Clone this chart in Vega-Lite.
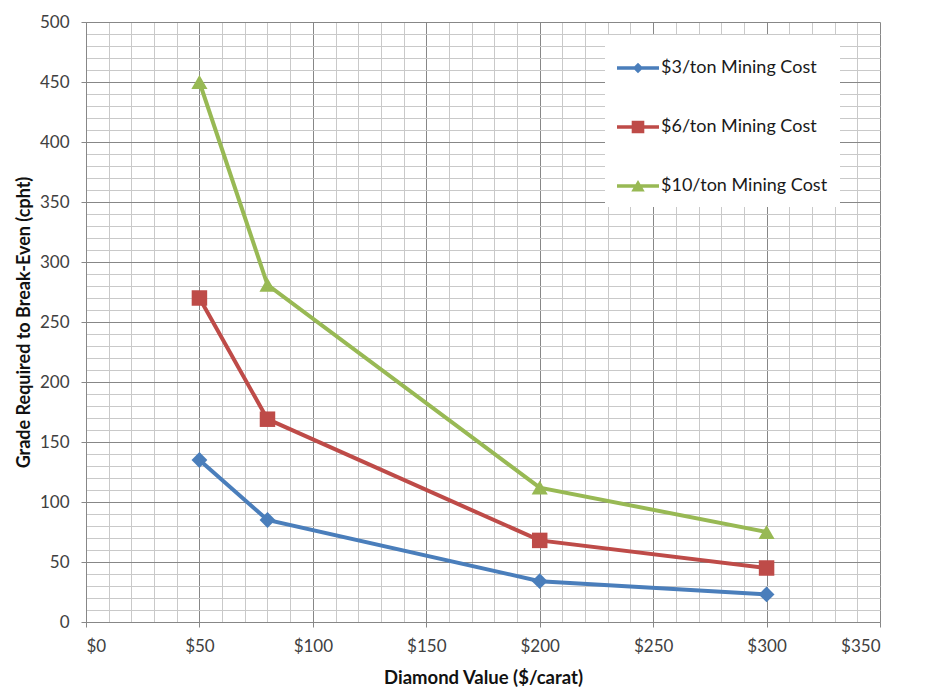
{
  "$schema": "https://vega.github.io/schema/vega-lite/v6.json",
  "width": 794,
  "height": 600,
  "autosize": "none",
  "padding": {"left": 86, "top": 22, "right": 46, "bottom": 72},
  "background": "white",
  "config": {
    "font": "Lato",
    "view": {"stroke": null},
    "axis": {
      "labelFont": "Lato",
      "labelFontSize": 17,
      "labelColor": "#404040",
      "titleFont": "Lato",
      "titleFontWeight": "bold",
      "titleColor": "#111111",
      "domainColor": "#878787",
      "tickSize": 5
    }
  },
  "data": {
    "values": [
      {"value": 50, "grade": 135, "series": "$3/ton Mining Cost"},
      {"value": 80, "grade": 85, "series": "$3/ton Mining Cost"},
      {"value": 200, "grade": 34, "series": "$3/ton Mining Cost"},
      {"value": 300, "grade": 23, "series": "$3/ton Mining Cost"},
      {"value": 50, "grade": 270, "series": "$6/ton Mining Cost"},
      {"value": 80, "grade": 169, "series": "$6/ton Mining Cost"},
      {"value": 200, "grade": 68, "series": "$6/ton Mining Cost"},
      {"value": 300, "grade": 45, "series": "$6/ton Mining Cost"},
      {"value": 50, "grade": 450, "series": "$10/ton Mining Cost"},
      {"value": 80, "grade": 281, "series": "$10/ton Mining Cost"},
      {"value": 200, "grade": 112, "series": "$10/ton Mining Cost"},
      {"value": 300, "grade": 75, "series": "$10/ton Mining Cost"}
    ]
  },
  "encoding": {
    "x": {
      "field": "value",
      "type": "quantitative",
      "scale": {"domain": [0, 350], "nice": false},
      "axis": {
        "title": "Diamond Value ($/carat)",
        "titleFontSize": 18.5,
        "values": [0,10,20,30,40,50,60,70,80,90,100,110,120,130,140,150,160,170,180,190,200,210,220,230,240,250,260,270,280,290,300,310,320,330,340,350],
        "labelExpr": "datum.value % 50 === 0 ? '$' + datum.value : ''",
        "labelOverlap": false,
        "labelPadding": 11,
        "titlePadding": 14,
        "gridColor": {"condition": {"test": "datum.value % 50 === 0", "value": "#878787"}, "value": "#c9c9c9"},
        "tickColor": {"condition": {"test": "datum.value % 50 === 0", "value": "#878787"}, "value": "transparent"}
      }
    },
    "y": {
      "field": "grade",
      "type": "quantitative",
      "scale": {"domain": [0, 500], "nice": false},
      "axis": {
        "title": "Grade Required to Break-Even (cpht)",
        "titleFontSize": 18,
        "values": [0,10,20,30,40,50,60,70,80,90,100,110,120,130,140,150,160,170,180,190,200,210,220,230,240,250,260,270,280,290,300,310,320,330,340,350,360,370,380,390,400,410,420,430,440,450,460,470,480,490,500],
        "labelExpr": "datum.value % 50 === 0 ? datum.value : ''",
        "labelOverlap": false,
        "labelPadding": 12,
        "titlePadding": 6,
        "gridColor": {"condition": {"test": "datum.value % 50 === 0", "value": "#878787"}, "value": "#c9c9c9"},
        "tickColor": {"condition": {"test": "datum.value % 50 === 0", "value": "#878787"}, "value": "transparent"}
      }
    },
    "color": {
      "field": "series",
      "type": "nominal",
      "scale": {
        "domain": ["$3/ton Mining Cost", "$6/ton Mining Cost", "$10/ton Mining Cost"],
        "range": ["#4a7ebb", "#be4b48", "#98b954"]
      },
      "legend": {
        "title": null,
        "orient": "none",
        "legendX": 519,
        "legendY": 13,
        "fillColor": "white",
        "padding": 12,
        "rowPadding": 29,
        "symbolSize": 1764,
        "symbolStrokeWidth": 0,
        "symbolOpacity": 1,
        "labelFont": "Lato",
        "labelFontSize": 18,
        "labelColor": "#1a1a1a",
        "labelOffset": 2,
        "labelLimit": 300
      }
    }
  },
  "layer": [
    {
      "mark": {"type": "line", "strokeWidth": 4}
    },
    {
      "transform": [{"filter": "datum.series === '$3/ton Mining Cost'"}],
      "mark": {"type": "point", "filled": true, "opacity": 1, "shape": "diamond", "size": 250}
    },
    {
      "transform": [{"filter": "datum.series === '$6/ton Mining Cost'"}],
      "mark": {"type": "point", "filled": true, "opacity": 1, "shape": "square", "size": 240}
    },
    {
      "transform": [{"filter": "datum.series === '$10/ton Mining Cost'"}],
      "mark": {"type": "point", "filled": true, "opacity": 1, "shape": "triangle-up", "size": 260}
    },
    {
      "mark": {"type": "point", "filled": true, "opacity": 0, "size": 1},
      "encoding": {
        "shape": {
          "field": "series",
          "type": "nominal",
          "scale": {
            "domain": ["$3/ton Mining Cost", "$6/ton Mining Cost", "$10/ton Mining Cost"],
            "range": [
              "M-1,-0.08 L1,-0.08 L1,0.08 L-1,0.08 Z M0,-0.25 L0.25,0 L0,0.25 L-0.25,0 Z",
              "M-1,-0.08 L1,-0.08 L1,0.08 L-1,0.08 Z M-0.3,-0.3 L0.3,-0.3 L0.3,0.3 L-0.3,0.3 Z",
              "M-1,-0.08 L1,-0.08 L1,0.08 L-1,0.08 Z M0,-0.28 L0.32,0.26 L-0.32,0.26 Z"
            ]
          },
          "legend": {
            "title": null,
            "orient": "none",
            "legendX": 519,
            "legendY": 13,
            "fillColor": "white",
            "padding": 12,
            "rowPadding": 29,
            "symbolSize": 1764,
            "symbolStrokeWidth": 0,
            "symbolOpacity": 1,
            "labelFont": "Lato",
            "labelFontSize": 18,
            "labelColor": "#1a1a1a",
            "labelOffset": 2,
            "labelLimit": 300
          }
        }
      }
    }
  ]
}
